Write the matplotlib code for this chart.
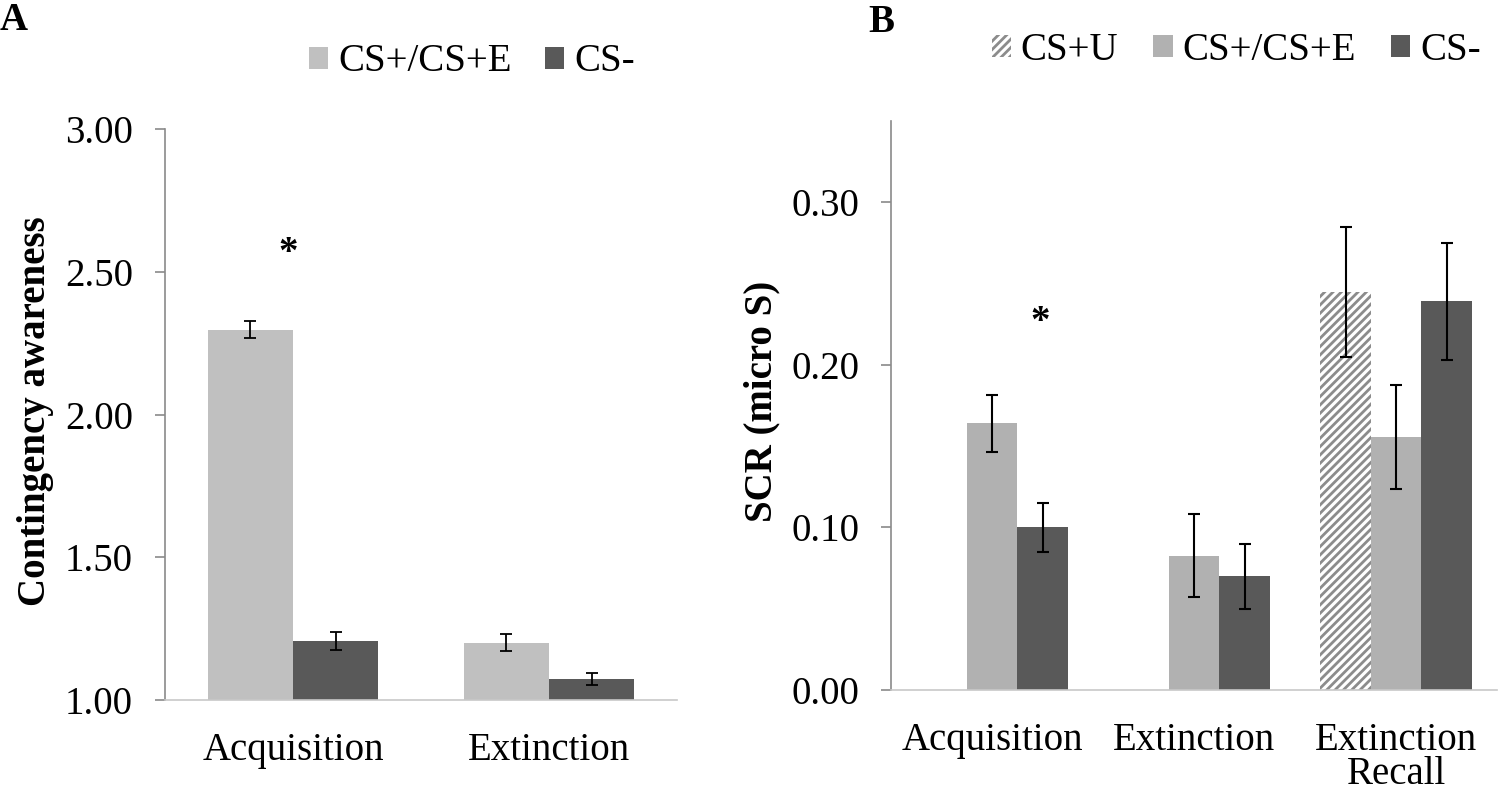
import numpy as np
import matplotlib.pyplot as plt
from matplotlib.patches import Patch

plt.rcParams['font.family'] = ['Liberation Serif', 'DejaVu Serif']
plt.rcParams['hatch.linewidth'] = 2.0

# ---- data: panel A (contingency awareness) ----
phases_a = ['Acquisition', 'Extinction']
aware_cs_plus = [2.297, 1.20]
aware_cs_plus_err = [0.029, 0.030]
aware_cs_minus = [1.207, 1.073]
aware_cs_minus_err = [0.032, 0.021]
star_a = (-0.02, 2.565)

# ---- data: panel B (SCR) ----
phases_b = ['Acquisition', 'Extinction', 'Extinction\nRecall']
scr_cs_u = [np.nan, np.nan, 0.245]
scr_cs_u_err = [np.nan, np.nan, 0.040]
scr_cs_plus = [0.164, 0.0825, 0.1555]
scr_cs_plus_err = [0.0175, 0.0255, 0.032]
scr_cs_minus = [0.100, 0.070, 0.239]
scr_cs_minus_err = [0.015, 0.020, 0.036]
star_b = (0.24, 0.226)

light_a = '#c0c0c0'
light_b = '#b1b1b1'
dark = '#595959'
hatch_col = '#8c8c8c'
spine_col = '#8a8a8a'
fs = 28

fig = plt.figure(figsize=(15, 7.94), dpi=100)
ax1 = fig.add_axes([0.11, 0.1184, 0.3413, 0.7191])
ax2 = fig.add_axes([0.594, 0.131, 0.404, 0.7166])


def style_axes(ax):
    for s in ['top', 'right']:
        ax.spines[s].set_visible(False)
    ax.spines['left'].set_color(spine_col)
    ax.spines['left'].set_linewidth(1.2)
    ax.spines['bottom'].set_color('#c8c8c8')
    ax.spines['bottom'].set_linewidth(1.2)
    ax.tick_params(axis='y', direction='out', length=7, width=1.2,
                   color=spine_col, pad=16, labelsize=fs)
    ax.tick_params(axis='x', length=0, pad=23, labelsize=fs)


# ---- panel A ----
x_a = np.arange(len(phases_a))
w_a = 1 / 3
ax1.bar(x_a - w_a / 2, aware_cs_plus, w_a, bottom=0, color=light_a,
        yerr=aware_cs_plus_err, capsize=4.5,
        error_kw=dict(elinewidth=1.3, capthick=1.3, ecolor='black'))
ax1.bar(x_a + w_a / 2, aware_cs_minus, w_a, color=dark,
        yerr=aware_cs_minus_err, capsize=4.5,
        error_kw=dict(elinewidth=1.3, capthick=1.3, ecolor='black'))
ax1.set_xlim(-0.5, 1.5)
ax1.set_ylim(1.0, 3.0)
ax1.set_yticks([1.0, 1.5, 2.0, 2.5, 3.0])
ax1.set_yticklabels(['%.2f' % v for v in [1.0, 1.5, 2.0, 2.5, 3.0]])
ax1.set_xticks(x_a)
ax1.set_xticklabels(phases_a)
style_axes(ax1)
ax1.text(star_a[0], star_a[1], '*', ha='center', va='center',
         fontsize=fs, fontweight='bold')
fig.text(0.024, 0.482, 'Contingency awareness', rotation=90, ha='center',
         va='center', fontsize=fs, fontweight='bold')
fig.text(0.0, 0.997, 'A', ha='left', va='top', fontsize=28, fontweight='bold')

leg_a = [Patch(facecolor=light_a, label='CS+/CS+E'),
         Patch(facecolor=dark, label='CS-')]
fig.legend(handles=leg_a, loc='center left', bbox_to_anchor=(0.206, 0.922),
           ncol=2, frameon=False, fontsize=fs, handlelength=0.5,
           handleheight=0.5, handletextpad=0.25, columnspacing=0.85,
           borderpad=0, borderaxespad=0)

# ---- panel B ----
x_b = np.arange(len(phases_b))
w_b = 0.25
ekw = dict(elinewidth=1.5, capthick=1.5, ecolor='black')
ax2.bar(x_b - w_b, scr_cs_u, w_b, color='white', edgecolor=hatch_col,
        hatch='////', linewidth=0, yerr=scr_cs_u_err, capsize=4,
        error_kw=ekw)
ax2.bar(x_b, scr_cs_plus, w_b, color=light_b, yerr=scr_cs_plus_err,
        capsize=4, error_kw=ekw)
ax2.bar(x_b + w_b, scr_cs_minus, w_b, color=dark, yerr=scr_cs_minus_err,
        capsize=4, error_kw=ekw)
ax2.set_xlim(-0.5, 2.5)
ax2.set_ylim(0, 0.35)
ax2.set_yticks([0, 0.1, 0.2, 0.3])
ax2.set_yticklabels(['%.2f' % v for v in [0, 0.1, 0.2, 0.3]])
ax2.set_xticks(x_b)
ax2.set_xticklabels(phases_b, linespacing=0.9)
style_axes(ax2)
ax2.text(star_b[0], star_b[1], '*', ha='center', va='center',
         fontsize=fs, fontweight='bold')
fig.text(0.508, 0.495, 'SCR (micro S)', rotation=90, ha='center',
         va='center', fontsize=fs, fontweight='bold')
fig.text(0.579, 0.995, 'B', ha='left', va='top', fontsize=28,
         fontweight='bold')

leg_b = [Patch(facecolor='white', edgecolor=hatch_col, hatch='////',
               linewidth=0, label='CS+U'),
         Patch(facecolor=light_b, label='CS+/CS+E'),
         Patch(facecolor=dark, label='CS-')]
fig.legend(handles=leg_b, loc='center left', bbox_to_anchor=(0.661, 0.937),
           ncol=3, frameon=False, fontsize=fs, handlelength=0.5,
           handleheight=0.5, handletextpad=0.25, columnspacing=0.9,
           borderpad=0, borderaxespad=0)

fig.savefig('out.png', dpi=100)
